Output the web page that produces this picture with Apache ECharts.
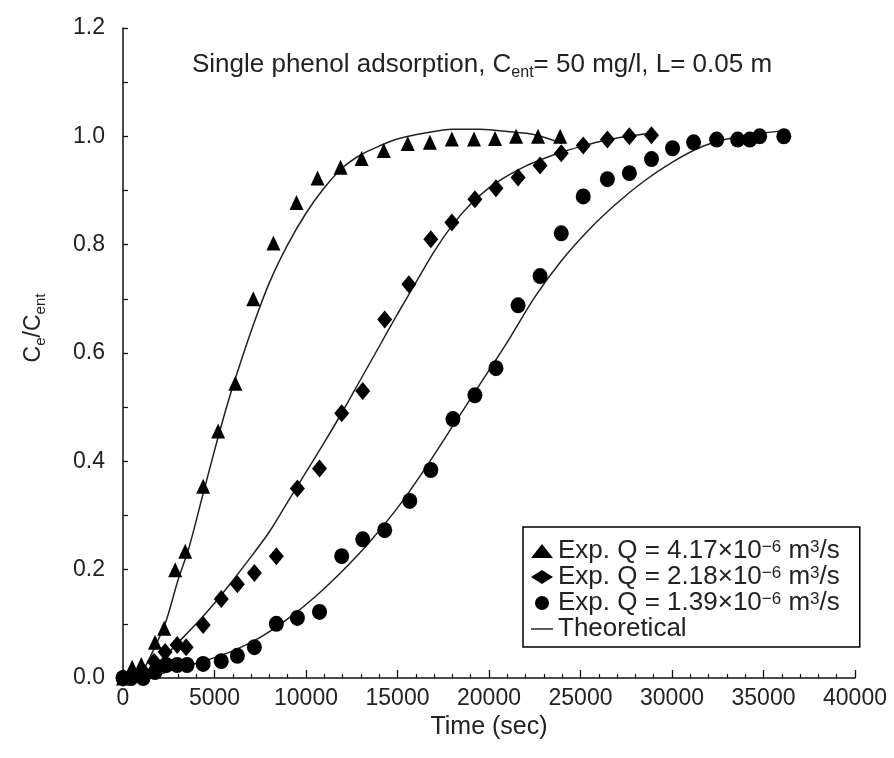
<!DOCTYPE html>
<html>
<head>
<meta charset="utf-8">
<script src="https://cdn.jsdelivr.net/npm/echarts@6/dist/echarts.min.js"></script>
<style>html,body{margin:0;padding:0;background:#fff}#c{width:894px;height:758px}</style>
</head>
<body>
<div id="c"></div>
<script>
// Experimental data: [time (sec), Ce/Cent]
var expQ417 = [[0,0],[500,0.02],[1000,0.025],[1750,0.066],[2250,0.092],[2850,0.2],[3400,0.234],[4380,0.354],[5200,0.456],[6140,0.544],[7120,0.70],[8220,0.803],[9480,0.878],[10630,0.923],[11890,0.943],[13040,0.959],[14250,0.974],[15560,0.987],[16770,0.989],[17970,0.995],[19180,0.995],[20330,0.996],[21480,1.0],[22680,1.0],[23890,1.0]];
var expQ218 = [[0,0],[500,0.005],[1100,0.012],[1700,0.03],[2300,0.048],[2960,0.061],[3450,0.057],[4380,0.098],[5370,0.146],[6250,0.173],[7180,0.194],[8380,0.225],[9530,0.35],[10740,0.387],[11950,0.489],[13100,0.53],[14300,0.662],[15620,0.727],[16820,0.81],[17970,0.841],[19230,0.884],[20380,0.904],[21590,0.924],[22790,0.946],[23950,0.969],[25150,0.983],[26470,0.994],[27670,1.0],[28880,1.002]];
var expQ139 = [[0,0],[440,0],[1100,0],[1750,0.011],[2360,0.024],[2960,0.024],[3500,0.024],[4380,0.026],[5370,0.031],[6250,0.041],[7180,0.057],[8380,0.1],[9530,0.111],[10740,0.122],[11950,0.225],[13100,0.256],[14300,0.273],[15670,0.327],[16820,0.384],[18030,0.478],[19230,0.522],[20380,0.572],[21590,0.688],[22790,0.742],[23950,0.821],[25150,0.889],[26470,0.921],[27670,0.932],[28880,0.958],[30030,0.978],[31180,0.989],[32440,0.994],[33590,0.994],[34250,0.994],[34790,1.0],[36110,1.0]];
// Theoretical curves
var theoQ417 = [[900,0],[1500,0.04],[2300,0.1],[3000,0.18],[3600,0.24],[4300,0.33],[5000,0.42],[5700,0.505],[6400,0.58],[7100,0.65],[8000,0.73],[9000,0.8],[10000,0.858],[11000,0.905],[12000,0.942],[13000,0.966],[14000,0.982],[15000,0.995],[16500,1.006],[18000,1.013],[19500,1.013],[21000,1.009],[22500,1.003],[24000,0.987]];
var theoQ218 = [[1000,0],[2000,0.03],[3000,0.065],[4000,0.1],[5000,0.138],[6000,0.18],[7000,0.224],[8000,0.27],[9000,0.325],[10000,0.38],[11000,0.435],[12000,0.492],[13000,0.552],[14000,0.612],[15000,0.672],[16000,0.73],[17000,0.787],[18000,0.836],[19000,0.875],[20000,0.905],[21000,0.927],[22000,0.945],[23000,0.959],[24000,0.971],[25000,0.981],[26000,0.99],[27000,0.997],[28000,1.002],[28900,1.006]];
var theoQ139 = [[1400,0],[3000,0.018],[4500,0.032],[6000,0.05],[7500,0.075],[9000,0.109],[10500,0.15],[12000,0.198],[13500,0.252],[15000,0.314],[16500,0.386],[18000,0.464],[19500,0.542],[21000,0.62],[22500,0.703],[24000,0.772],[25500,0.829],[27000,0.877],[28500,0.918],[30000,0.952],[31500,0.979],[33000,0.995],[34500,1.004],[36400,1.011]];
var seriesNames = ['Q417', 'Q218', 'Q139', 'Theoretical'];
var legendValues = ['4.17', '2.18', '1.39'];

var FONT = "'Liberation Sans', Arial, sans-serif";
var chart = echarts.init(document.getElementById('c'), null, {renderer: 'canvas'});

function lineSeries(data) {
  return {name: 'Theoretical', type: 'line', data: data, smooth: 0.3, symbol: 'none',
    lineStyle: {color: '#222', width: 1.5}, itemStyle: {color: '#222'}, z: 1, silent: true};
}
function scatterSeries(name, data, symbol, size) {
  return {name: name, type: 'scatter', data: data, symbol: symbol, symbolSize: size,
    itemStyle: {color: '#000', opacity: 1}, z: 3};
}

chart.setOption({
  animation: false,
  backgroundColor: '#fff',
  title: {
    text: 'Single phenol adsorption, C{sub|ent}= 50 mg/l, L= 0.05 m',
    left: 477, top: 43, textAlign: 'center',
    textStyle: {fontFamily: FONT, fontSize: 26, fontWeight: 'normal', color: '#222',
      rich: {sub: {fontFamily: FONT, fontSize: 16, color: '#222', verticalAlign: 'bottom', padding: [17, 0, 0, 0]}}}
  },
  grid: {left: 123, right: 39, top: 28, bottom: 80},
  legend: {
    left: 523, top: 527, orient: 'vertical',
    borderColor: '#000', borderWidth: 1.5, padding: [11, 20, 5, 8],
    itemGap: 0, itemWidth: 22, itemHeight: 14,
    data: [
      {name: 'Q417', icon: 'triangle'},
      {name: 'Q218', icon: 'diamond'},
      {name: 'Q139', icon: 'circle'},
      {name: 'Theoretical', icon: 'path://M0,0 L26,0 L26,1.7 L0,1.7 Z'}
    ],
    formatter: function (name) {
      var i = seriesNames.indexOf(name);
      if (i === 3) return 'Theoretical';
      return 'Exp. Q = ' + legendValues[i] + '×10{sup|−6} m{sup|3}/s';
    },
    textStyle: {fontFamily: FONT, fontSize: 26, lineHeight: 25, color: '#222',
      rich: {sup: {fontFamily: FONT, fontSize: 17, color: '#222', verticalAlign: 'top', padding: [0, 0, 10, 0]}}}
  },
  xAxis: {
    type: 'value', min: 0, max: 40000, interval: 5000,
    name: 'Time (sec)', nameLocation: 'middle', nameGap: 26,
    nameTextStyle: {fontFamily: FONT, fontSize: 25, color: '#222'},
    axisLine: {lineStyle: {color: '#111', width: 1.5}},
    axisTick: {inside: true, length: 8, lineStyle: {color: '#111', width: 1.3}},
    minorTick: {show: true, splitNumber: 5, length: 4, lineStyle: {color: '#111', width: 1.2}},
    axisLabel: {fontFamily: FONT, fontSize: 23, color: '#222', margin: 9,
      formatter: function (v) { return String(v); }},
    splitLine: {show: false}
  },
  yAxis: {
    type: 'value', min: 0, max: 1.2, interval: 0.2,
    name: 'C{sub|e}/C{sub|ent}', nameLocation: 'middle', nameGap: 75, nameRotate: 90,
    nameTextStyle: {fontFamily: FONT, fontSize: 23, color: '#222', padding: [0, 0, 0, 50],
      rich: {sub: {fontFamily: FONT, fontSize: 15, color: '#222', verticalAlign: 'bottom', padding: [14, 0, 0, 0]}}},
    axisLine: {lineStyle: {color: '#111', width: 1.5}},
    axisTick: {inside: true, length: 5, lineStyle: {color: '#111', width: 1.3}},
    minorTick: {show: true, splitNumber: 2, length: 5, lineStyle: {color: '#111', width: 1.2}},
    axisLabel: {fontFamily: FONT, fontSize: 23, color: '#222', margin: 18,
      formatter: function (v) { return v.toFixed(1); }},
    splitLine: {show: false}
  },
  series: [
    scatterSeries('Q417', expQ417, 'triangle', [14, 15]),
    scatterSeries('Q218', expQ218, 'diamond', [15, 18]),
    scatterSeries('Q139', expQ139, 'circle', [15, 16]),
    lineSeries(theoQ417),
    lineSeries(theoQ218),
    lineSeries(theoQ139)
  ]
});
</script>
</body>
</html>
